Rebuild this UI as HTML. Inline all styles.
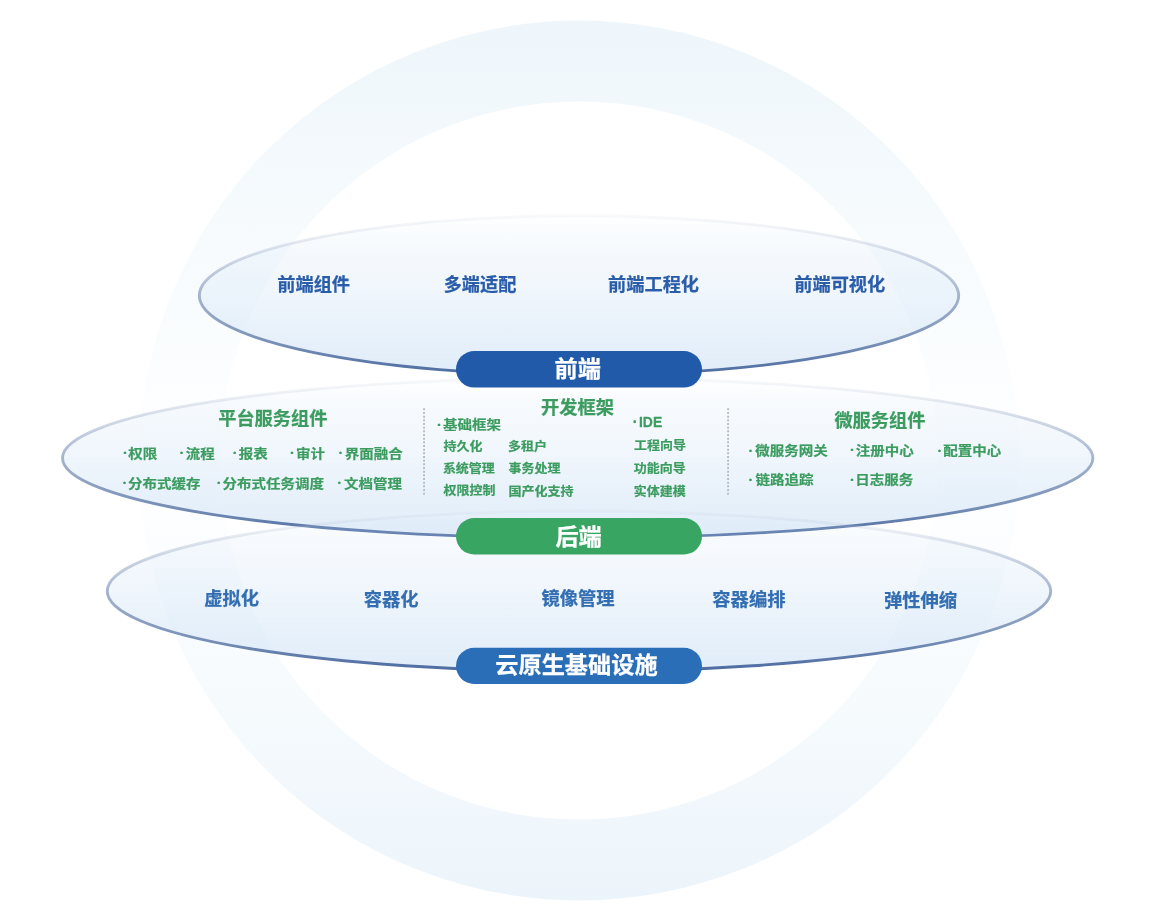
<!DOCTYPE html>
<html lang="zh-CN">
<head>
<meta charset="utf-8">
<title>技术架构</title>
<style>
html,body{margin:0;padding:0;background:#fff;}
body{width:1158px;height:916px;overflow:hidden;position:relative;font-family:"Liberation Sans","Noto Sans CJK SC",sans-serif;}
svg{position:absolute;left:0;top:0;display:block;will-change:transform;}
text{font-family:"Liberation Sans","Noto Sans CJK SC",sans-serif;font-weight:700;stroke-width:0.25px;stroke-linejoin:round;}
.d{font-family:"Noto Sans CJK SC","Liberation Sans",sans-serif;font-size:9.5px;}
.b{fill:#2a5da9;stroke:#2a5da9;font-size:18.2px;}
.b2{fill:#336eb2;stroke:#336eb2;font-size:18.3px;}
.w{fill:#fff;stroke:#fff;font-size:23.2px;}
.g{fill:#3c9c60;stroke:#3c9c60;}
.h{font-size:18.2px;}
.i{font-size:14.5px;}
.s{font-size:13px;}
</style>
</head>
<body>
<svg width="1158" height="916" viewBox="0 0 1158 916">
  <defs>
    <linearGradient id="ring" x1="0" y1="20" x2="0" y2="901" gradientUnits="userSpaceOnUse">
      <stop offset="0" stop-color="#eef6fb"/>
      <stop offset="0.2" stop-color="#f5fafd"/>
      <stop offset="0.46" stop-color="#fdfeff"/>
      <stop offset="0.54" stop-color="#fdfeff"/>
      <stop offset="0.8" stop-color="#f5fafd"/>
      <stop offset="1" stop-color="#ecf4fb"/>
    </linearGradient>
    <linearGradient id="ef" x1="0" y1="0" x2="0" y2="1">
      <stop offset="0" stop-color="#d7e7f7" stop-opacity="0"/>
      <stop offset="0.12" stop-color="#d7e7f7" stop-opacity="0.16"/>
      <stop offset="0.5" stop-color="#d7e7f7" stop-opacity="0.4"/>
      <stop offset="0.9" stop-color="#d7e7f7" stop-opacity="0.7"/>
      <stop offset="1" stop-color="#d7e7f7" stop-opacity="0.78"/>
    </linearGradient>
    <linearGradient id="es" x1="0" y1="0" x2="0" y2="1">
      <stop offset="0" stop-color="#a6b4cc" stop-opacity="0.08"/>
      <stop offset="0.12" stop-color="#a6b4cc" stop-opacity="0.22"/>
      <stop offset="0.5" stop-color="#9aabc6" stop-opacity="0.88"/>
      <stop offset="0.8" stop-color="#788fb6" stop-opacity="1"/>
      <stop offset="1" stop-color="#4b6aa0" stop-opacity="1"/>
    </linearGradient>
  </defs>
  <circle cx="579" cy="460.5" r="399.5" fill="none" stroke="url(#ring)" stroke-width="81"/>
  <ellipse cx="579" cy="295.5" rx="379.7" ry="79.7" fill="url(#ef)" stroke="url(#es)" stroke-width="2.9"/>
  <ellipse cx="577.7" cy="458" rx="515.2" ry="80" fill="url(#ef)" stroke="url(#es)" stroke-width="2.9"/>
  <ellipse cx="579" cy="591.2" rx="471.7" ry="80.2" fill="url(#ef)" stroke="url(#es)" stroke-width="2.9"/>

  <rect x="456" y="351" width="246" height="36.6" rx="18.3" fill="#215aa9"/>
  <rect x="456" y="518" width="246" height="36.5" rx="18.25" fill="#38a562"/>
  <rect x="456" y="647.8" width="246" height="36.2" rx="18.1" fill="#2b6eb8"/>

  <line x1="424.05" y1="408.3" x2="424.05" y2="496" stroke="#b9bdc2" stroke-width="1.9" stroke-dasharray="2 1.67"/>
  <line x1="728.1" y1="408.3" x2="728.1" y2="496" stroke="#b9bdc2" stroke-width="1.9" stroke-dasharray="2 1.67"/>

  <text class="w" x="554.56" y="377.37">前端</text>
  <text class="w" x="555.39" y="544.77">后端</text>
  <text class="w" x="495.27" y="673.37">云原生基础设施</text>
  <text class="b" x="277.3" y="291.27">前端组件</text>
  <text class="b" x="443.66" y="291.34">多端适配</text>
  <text class="b" x="608.1" y="291.16">前端工程化</text>
  <text class="b" x="794.3" y="291.28">前端可视化</text>
  <text class="b2" x="204.3" y="604.69">虚拟化</text>
  <text class="b2" x="363.75" y="605.74">容器化</text>
  <text class="b2" x="541.44" y="604.91">镜像管理</text>
  <text class="b2" x="712.35" y="606.4">容器编排</text>
  <text class="b2" x="884" y="607.4">弹性伸缩</text>
  <text class="g h" x="218.2" y="425.2">平台服务组件</text>
  <text class="g h" x="541.1" y="414.2">开发框架</text>
  <text class="g h" x="834.42" y="427.1">微服务组件</text>
  <text class="g i" transform="translate(0 457.9) scale(1 0.89)"><tspan class="d" x="120.17" y="-1.67">·</tspan><tspan x="128.2" y="0">权限</tspan></text>
  <text class="g i" transform="translate(0 457.79) scale(1 0.89)"><tspan class="d" x="176.87" y="-1.55">·</tspan><tspan x="185.66" y="0">流程</tspan></text>
  <text class="g i" transform="translate(0 457.9) scale(1 0.89)"><tspan class="d" x="230.07" y="-1.67">·</tspan><tspan x="238.68" y="0">报表</tspan></text>
  <text class="g i" transform="translate(0 457.9) scale(1 0.89)"><tspan class="d" x="287.37" y="-1.67">·</tspan><tspan x="295.98" y="0">审计</tspan></text>
  <text class="g i" transform="translate(0 457.77) scale(1 0.89)"><tspan class="d" x="335.87" y="-1.53">·</tspan><tspan x="344.7" y="0">界面融合</tspan></text>
  <text class="g i" transform="translate(0 487.9) scale(1 0.89)"><tspan class="d" x="119.87" y="-1.67">·</tspan><tspan x="128.08" y="0">分布式缓存</tspan></text>
  <text class="g i" transform="translate(0 487.9) scale(1 0.89)"><tspan class="d" x="213.97" y="-1.67">·</tspan><tspan x="222.58" y="0">分布式任务调度</tspan></text>
  <text class="g i" transform="translate(0 487.67) scale(1 0.89)"><tspan class="d" x="334.47" y="-1.42">·</tspan><tspan x="343.97" y="0">文档管理</tspan></text>
  <text class="g i" transform="translate(0 429) scale(1 0.89)"><tspan class="d" x="434.17" y="-1.45">·</tspan><tspan x="442.94" y="0">基础框架</tspan></text>
  <text class="g s" transform="translate(443.46 451.1) scale(1 0.93)">持久化</text>
  <text class="g s" transform="translate(507.99 451.1) scale(1 0.93)">多租户</text>
  <text class="g s" transform="translate(442.88 472.97) scale(1 0.93)">系统管理</text>
  <text class="g s" transform="translate(508.48 473.2) scale(1 0.93)">事务处理</text>
  <text class="g s" transform="translate(443.61 495.43) scale(1 0.93)">权限控制</text>
  <text class="g s" transform="translate(508.5 495.6) scale(1 0.93)">国产化支持</text>
  <text class="g i" transform="translate(0 426.5) scale(1 1.03)" style="font-size:13.9px"><tspan class="d" x="630.08" y="-0.53">·</tspan><tspan x="639" y="0">IDE</tspan></text>
  <text class="g s" transform="translate(633.92 450.2) scale(1 0.93)">工程向导</text>
  <text class="g s" transform="translate(633.78 473) scale(1 0.93)">功能向导</text>
  <text class="g s" transform="translate(633.7 496) scale(1 0.93)">实体建模</text>
  <text class="g i" transform="translate(0 454.77) scale(1 0.89)"><tspan class="d" x="745.87" y="-1.42">·</tspan><tspan x="755.24" y="0">微服务网关</tspan></text>
  <text class="g i" transform="translate(0 454.5) scale(1 0.89)"><tspan class="d" x="847.17" y="-1.34">·</tspan><tspan x="855.74" y="0">注册中心</tspan></text>
  <text class="g i" transform="translate(0 455.2) scale(1 0.89)"><tspan class="d" x="934.77" y="-1.67">·</tspan><tspan x="943.2" y="0">配置中心</tspan></text>
  <text class="g i" transform="translate(0 483.99) scale(1 0.89)"><tspan class="d" x="745.87" y="-1.55">·</tspan><tspan x="755.6" y="0">链路追踪</tspan></text>
  <text class="g i" transform="translate(0 484.1) scale(1 0.89)"><tspan class="d" x="847.17" y="-1.67">·</tspan><tspan x="855.35" y="0">日志服务</tspan></text>
</svg>
</body>
</html>
